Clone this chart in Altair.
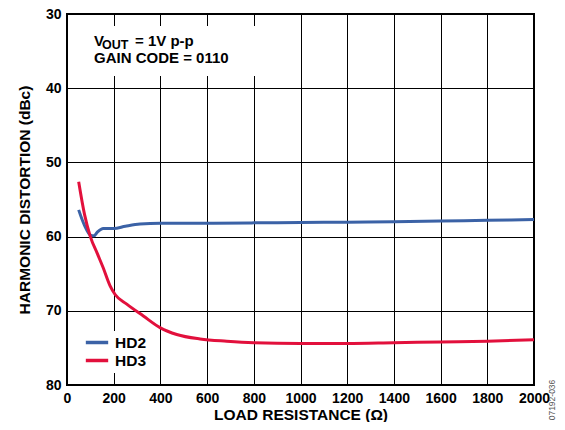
import altair as alt
import pandas as pd

hd2_x = [50, 75, 100, 115, 130, 155, 200, 250, 313, 400, 600, 800, 1000, 1200, 1400, 1600, 1800, 2000]
hd2_y = [56.4, 58.5, 59.8, 59.9, 59.4, 58.9, 58.9, 58.6, 58.3, 58.2, 58.2, 58.15, 58.1, 58.05, 58.0, 57.9, 57.8, 57.7]
hd3_x = [50, 75, 100, 130, 155, 184, 206, 256, 327, 400, 470, 570, 684, 800, 1000, 1200, 1400, 1600, 1800, 2000]
hd3_y = [52.6, 57.0, 60.0, 62.3, 64.2, 66.6, 67.8, 69.1, 70.7, 72.3, 73.2, 73.8, 74.1, 74.3, 74.4, 74.4, 74.3, 74.2, 74.1, 73.9]
x_ticks = list(range(0, 2001, 200))
y_ticks = [30, 40, 50, 60, 70, 80]
series_names = ["HD2", "HD3"]
series_colors = ["#3B62A6", "#E2103C"]

df = pd.DataFrame(
    [{"R": x, "D": y, "s": "HD2"} for x, y in zip(hd2_x, hd2_y)]
    + [{"R": x, "D": y, "s": "HD3"} for x, y in zip(hd3_x, hd3_y)]
)

FONT = "Liberation Sans"

box = alt.Chart(pd.DataFrame({"a": [0]})).mark_rect(color="white").encode(
    x=alt.value(8), x2=alt.value(203), y=alt.value(12), y2=alt.value(62)
)

lines = alt.Chart(df).mark_line(strokeWidth=3, interpolate="monotone").encode(
    x=alt.X("R:Q", scale=alt.Scale(domain=[0, 2000], nice=False),
            axis=alt.Axis(values=x_ticks, title="LOAD RESISTANCE (Ω)", format="d",
                          labelOverlap=False, labelFlush=False,
                          labelPadding=6, titlePadding=2)),
    y=alt.Y("D:Q", scale=alt.Scale(domain=[30, 80], reverse=True, nice=False),
            axis=alt.Axis(values=y_ticks, title="HARMONIC DISTORTION (dBc)",
                          labelOverlap=False, labelFlush=False,
                          labelPadding=6, titlePadding=13)),
    color=alt.Color("s:N", scale=alt.Scale(domain=series_names, range=series_colors),
                    legend=alt.Legend(title=None, orient="none", legendX=13, legendY=317,
                                      fillColor="white", padding=4,
                                      symbolType="stroke", symbolSize=500,
                                      symbolStrokeWidth=3.5, clipHeight=15,
                                      rowPadding=2, labelFont=FONT, labelFontSize=15.5,
                                      labelFontWeight="bold", labelColor="black",
                                      labelOffset=5)),
)

def txt(s, x, y, size=15):
    return alt.Chart(pd.DataFrame({"t": [s]})).mark_text(
        font=FONT, fontSize=size, fontWeight="bold", align="left", baseline="alphabetic",
        color="black"
    ).encode(text="t:N", x=alt.value(x), y=alt.value(y))

t1 = txt("V", 27, 31.7)
t2 = txt("OUT", 35, 35, 12.5)
t3 = txt("= 1V p-p", 68, 31.7)
t4 = txt("GAIN CODE = 0110", 27, 49.3)

wm = alt.Chart(pd.DataFrame({"t": ["07192-036"]})).mark_text(
    font=FONT, fontSize=8.5, angle=270, color="#555555", align="center", baseline="middle"
).encode(text="t:N", x=alt.value(485), y=alt.value(386))

chart = alt.layer(box, lines, t1, t2, t3, t4, wm).properties(
    width=467, height=371,
    autosize=alt.AutoSizeParams(type="none"),
    padding={"left": 59, "top": 6, "right": 23, "bottom": 37},
).configure_view(
    stroke="black", strokeWidth=2
).configure_axis(
    grid=True, gridColor="black", gridWidth=1, gridOpacity=1,
    ticks=False, domain=False,
    labelFont=FONT, labelFontSize=14, labelFontWeight="bold", labelColor="black",
    titleFont=FONT, titleFontSize=15.5, titleFontWeight="bold", titleColor="black",
)

chart.save("out.html", embed_options={"renderer": "svg", "actions": False})
